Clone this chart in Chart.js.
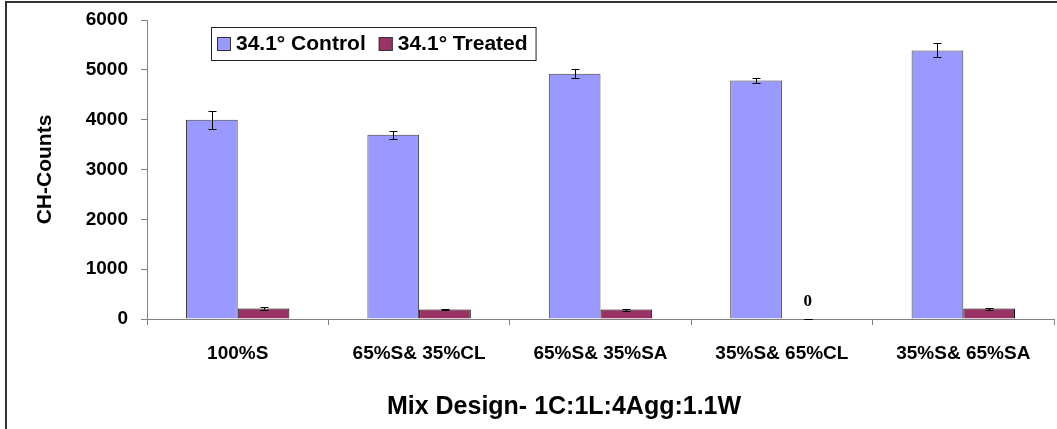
<!DOCTYPE html>
<html>
<head>
<meta charset="utf-8">
<title>CH-Counts</title>
<script src="https://cdn.jsdelivr.net/npm/chart.js@4.4.0/dist/chart.umd.min.js"></script>
<style>
body{margin:0;background:#fff;}
#wrap{width:1057px;height:429px;}
</style>
</head>
<body>
<div id="wrap"><canvas id="chCounts" width="1057" height="429"></canvas></div>
<script>

// data
const categories = ['100%S', '65%S& 35%CL', '65%S& 35%SA', '35%S& 65%CL', '35%S& 65%SA'];
const seriesNames = ['34.1\u00b0 Control', '34.1\u00b0 Treated'];
const controlValues = [3997, 3695, 4922, 4785, 5390];
const controlErrors = [184, 83, 90, 57, 140];
const treatedValues = [210, 190, 190, 0, 210];
const treatedErrors = [30, 15, 20, 0, 20];
const yMin = 0;
const yMax = 6000;
const yStep = 1000;
const xTitle = 'Mix Design- 1C:1L:4Agg:1.1W';
const yTitle = 'CH-Counts';

const errorSets = [controlErrors, treatedErrors];

// error bars, legend box, frame, axis title, zero label
const extras = {
  id: 'extras',
  afterDatasetsDraw(chart){
    let ctx = chart.ctx;
    let y = chart.scales.y;
    ctx.save();
    ctx.strokeStyle = '#000';
    ctx.lineWidth = 1;
    errorSets.forEach((errs, d) => {
      let meta = chart.getDatasetMeta(d);
      let vals = chart.data.datasets[d].data;
      meta.data.forEach((bar, i) => {
        let x = Math.round(bar.x) + 0.5;
        let top = Math.round(y.getPixelForValue(vals[i] + errs[i])) + 0.5;
        let bot = Math.round(y.getPixelForValue(vals[i] - errs[i])) + 0.5;
        ctx.beginPath();
        ctx.moveTo(x, top); ctx.lineTo(x, bot);
        ctx.moveTo(x - 4, top); ctx.lineTo(x + 4, top);
        ctx.moveTo(x - 4, bot); ctx.lineTo(x + 4, bot);
        ctx.stroke();
      });
    });
    ctx.restore();
  },
  afterDraw(chart){
    let ctx = chart.ctx;
    ctx.save();

    // outer frame (left and top only, the rest is cut off)
    ctx.strokeStyle = '#333';
    ctx.lineWidth = 2;
    ctx.beginPath();
    ctx.moveTo(6, chart.height);
    ctx.lineTo(6, 2);
    ctx.lineTo(chart.width, 2);
    ctx.stroke();

    // "0" label over empty bar
    ctx.fillStyle = '#000';
    ctx.font = 'bold 17px "Liberation Serif", "DejaVu Serif", serif';
    ctx.textAlign = 'center';
    ctx.textBaseline = 'middle';
    chart.data.datasets.forEach((ds, d) => {
      chart.getDatasetMeta(d).data.forEach((bar, i) => {
        if (ds.data[i] === 0) ctx.fillText('0', bar.x, bar.y - 17);
      });
    });

    // x axis title
    ctx.font = 'bold 25px "Liberation Sans", Arial, sans-serif';
    ctx.fillText(xTitle, 564, 407);

    // legend
    ctx.font = 'bold 21px "Liberation Sans", Arial, sans-serif';
    ctx.textAlign = 'left';
    let lx = 211, ly = 27, lh = 33;
    let x = lx + 6;
    let parts = chart.data.datasets.map(ds => {
      let w = ctx.measureText(ds.label).width;
      let p = {ds: ds, x: x, w: w};
      x += 14 + 5 + w + 13;
      return p;
    });
    let lw = x - 13 + 8 - lx;
    ctx.fillStyle = '#fff';
    ctx.fillRect(lx, ly, lw, lh);
    ctx.strokeStyle = '#222';
    ctx.lineWidth = 1;
    ctx.strokeRect(lx + 0.5, ly + 0.5, lw, lh);
    parts.forEach(p => {
      ctx.fillStyle = p.ds.backgroundColor;
      ctx.fillRect(p.x, ly + 10, 14, 14);
      ctx.strokeStyle = '#333';
      ctx.strokeRect(p.x + 0.5, ly + 10.5, 13, 13);
      ctx.fillStyle = '#000';
      ctx.fillText(p.ds.label, p.x + 19, ly + lh / 2 + 1);
    });

    ctx.restore();
  }
};

const ctx1 = document.getElementById('chCounts').getContext('2d');
const chCountsChart = new Chart(ctx1, {
  type: 'bar',
  data: {
    labels: categories,
    datasets: [{
      label: seriesNames[0],
      data: controlValues,
      backgroundColor: '#9999FF',
      borderColor: '#404040',
      borderWidth: 1
    }, {
      label: seriesNames[1],
      data: treatedValues,
      backgroundColor: '#993366',
      borderColor: '#000',
      borderWidth: 1
    }]
  },
  options: {
    responsive: false,
    animation: false,
    devicePixelRatio: 1,
    categoryPercentage: 0.57,
    barPercentage: 1.0,
    layout: { padding: { left: 6, right: 3, top: 20, bottom: 0 } },
    plugins: {
      legend: { display: false },
      tooltip: { enabled: false }
    },
    scales: {
      x: {
        grid: { display: true, drawOnChartArea: false, offset: true, tickLength: 6, color: '#808080' },
        border: { color: '#808080', width: 1 },
        ticks: {
          color: '#000',
          padding: 17,
          maxRotation: 0,
          font: { family: '"Liberation Sans", Arial, sans-serif', size: 19, weight: 'bold' }
        },
        afterFit: function(scale){ scale.height = 110; }
      },
      y: {
        min: yMin,
        max: yMax,
        grid: { drawOnChartArea: false, tickLength: 6, color: '#808080' },
        border: { color: '#808080', width: 1 },
        ticks: {
          stepSize: yStep,
          color: '#000',
          padding: 13,
          callback: function(value){ return String(value); },
          font: { family: '"Liberation Sans", Arial, sans-serif', size: 19, weight: 'bold' }
        },
        title: {
          display: true,
          text: yTitle,
          color: '#000',
          padding: { top: 27, bottom: 0 },
          font: { family: '"Liberation Sans", Arial, sans-serif', size: 21, weight: 'bold' }
        },
        afterFit: function(scale){
          scale.width = 141;
          scale.paddingTop = 0;
          scale.paddingBottom = 0;
        }
      }
    }
  },
  plugins: [extras]
});

</script>
</body>
</html>
